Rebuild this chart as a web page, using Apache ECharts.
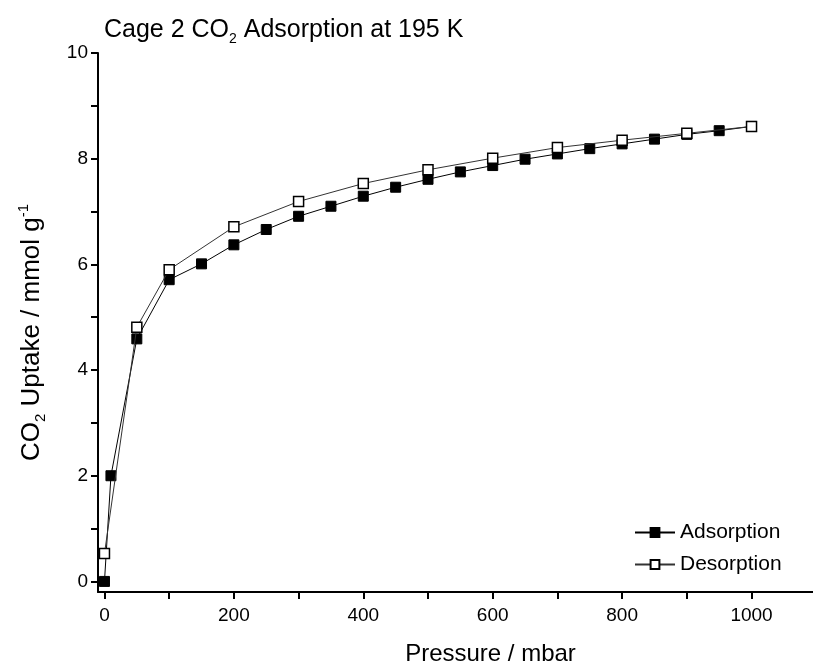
<!DOCTYPE html>
<html>
<head>
<meta charset="utf-8">
<script src="https://cdn.jsdelivr.net/npm/echarts@6/dist/echarts.min.js"></script>
<style>html,body{margin:0;padding:0;background:#fff}#c{width:813px;height:671px}</style>
</head>
<body>
<div id="c"></div>
<script>
const adsP = [0, 10, 50, 100, 150, 200, 250, 300, 350, 400, 450, 500, 550, 600, 650, 700, 750, 800, 850, 900, 950, 1000];
const adsV = [0, 2.0, 4.59, 5.71, 6.01, 6.37, 6.66, 6.91, 7.10, 7.29, 7.46, 7.61, 7.75, 7.87, 7.99, 8.09, 8.19, 8.28, 8.37, 8.46, 8.53, 8.61];
const desP = [1000, 900, 800, 700, 600, 500, 400, 300, 200, 100, 50, 0];
const desV = [8.61, 8.48, 8.35, 8.21, 8.01, 7.79, 7.53, 7.19, 6.71, 5.90, 4.81, 0.53];
const xTicks = [0, 100, 200, 300, 400, 500, 600, 700, 800, 900, 1000];
const xLabels = [0, 200, 400, 600, 800, 1000];
const yTicks = [0, 1, 2, 3, 4, 5, 6, 7, 8, 9, 10];
const yLabels = [0, 2, 4, 6, 8, 10];

const FONT = '"Liberation Sans", Arial, sans-serif';
const chart = echarts.init(document.getElementById('c'), null, {renderer: 'canvas'});
chart.setOption({
  animation: false,
  backgroundColor: '#fff',
  textStyle: {fontFamily: FONT, color: '#000'},
  title: {
    text: '{a|Cage 2 CO}{s|2}{a| Adsorption at 195 K}',
    left: 99, top: 9,
    textStyle: {
      fontFamily: FONT, color: '#000', fontWeight: 'normal',
      rich: {
        a: {fontSize: 25, lineHeight: 32, fontFamily: FONT, color: '#000'},
        s: {fontSize: 14, lineHeight: 14, verticalAlign: 'bottom', fontFamily: FONT, color: '#000'}
      }
    }
  },
  legend: {
    orient: 'vertical',
    left: 629, top: 517,
    itemWidth: 40, itemHeight: 11, itemGap: 11,
    textStyle: {fontSize: 21, fontFamily: FONT, color: '#000'},
    data: ['Adsorption', 'Desorption']
  },
  grid: {left: 98, right: 0, top: 53, bottom: 79},
  xAxis: {
    type: 'value', min: -10, max: 1095,
    name: 'Pressure / mbar', nameLocation: 'middle', nameGap: 50,
    nameTextStyle: {fontSize: 24, fontFamily: FONT, color: '#000', padding: [0, 0, 0, 70]},
    axisLine: {show: true, onZero: false, lineStyle: {color: '#000', width: 2}},
    axisTick: {show: true, inside: false, length: 7, lineStyle: {color: '#000', width: 2}, customValues: xTicks},
    axisLabel: {fontSize: 19, fontFamily: FONT, color: '#000', margin: 14, customValues: xLabels, formatter: v => String(v)},
    splitLine: {show: false}
  },
  yAxis: {
    type: 'value', min: -0.2, max: 10,
    name: '{a|CO}{s|2}{a| Uptake / mmol g}{p|-1}', nameLocation: 'middle', nameGap: 50,
    nameTextStyle: {
      fontFamily: FONT, color: '#000', padding: [0, 20, 0, 0],
      rich: {
        a: {fontSize: 26, lineHeight: 32, fontFamily: FONT, color: '#000'},
        s: {fontSize: 15, lineHeight: 15, verticalAlign: 'bottom', fontFamily: FONT, color: '#000'},
        p: {fontSize: 15, lineHeight: 15, verticalAlign: 'top', fontFamily: FONT, color: '#000'}
      }
    },
    axisLine: {show: true, onZero: false, lineStyle: {color: '#000', width: 2}},
    axisTick: {show: true, inside: false, length: 7, lineStyle: {color: '#000', width: 2}, customValues: yTicks},
    axisLabel: {fontSize: 19, fontFamily: FONT, color: '#000', margin: 10, customValues: yLabels},
    splitLine: {show: false}
  },
  series: [
    {
      name: 'Adsorption', type: 'line',
      data: adsP.map((p, i) => [p, adsV[i]]),
      symbol: 'rect', symbolSize: 10,
      lineStyle: {color: '#000', width: 1},
      itemStyle: {color: '#000', borderColor: '#000', borderWidth: 1},
      z: 2
    },
    {
      name: 'Desorption', type: 'line',
      data: desP.map((p, i) => [p, desV[i]]),
      symbol: 'rect', symbolSize: 10,
      lineStyle: {color: '#333', width: 1},
      itemStyle: {color: '#fff', borderColor: '#000', borderWidth: 1.5},
      z: 3
    }
  ]
});
</script>
</body>
</html>
